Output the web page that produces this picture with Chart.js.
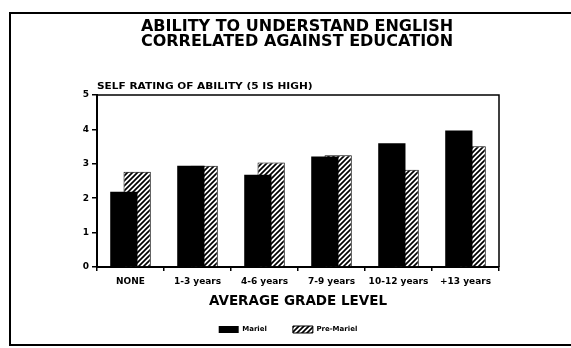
<!DOCTYPE html>
<html>
<head>
<meta charset="utf-8">
<script src="https://cdn.jsdelivr.net/npm/chart.js@4/dist/chart.umd.min.js"></script>
<style>
  html, body { margin: 0; padding: 0; background: #fff; }
  #wrap { width: 571px; height: 348px; position: relative; }
</style>
</head>
<body>
<div id="wrap"><canvas id="chart" width="571" height="348"></canvas></div>
<script>
const categories = ['NONE', '1-3 years', '4-6 years', '7-9 years', '10-12 years', '+13 years'];
const seriesNames = ['Mariel', 'Pre-Mariel'];
const mariel = [2.19, 2.94, 2.68, 3.21, 3.60, 3.97];
const preMariel = [2.77, 2.94, 3.04, 3.25, 2.83, 3.51];
const yTicks = [0, 1, 2, 3, 4, 5];

const titleLines = ['ABILITY TO UNDERSTAND ENGLISH', 'CORRELATED AGAINST EDUCATION'];
const yCaption = 'SELF RATING OF ABILITY (5 IS HIGH)';
const xCaption = 'AVERAGE GRADE LEVEL';

const FONT = "'DejaVu Sans', sans-serif";

// diagonal hatch for the second series
function hatch() {
  const c = document.createElement('canvas');
  c.width = 5; c.height = 5;
  const g = c.getContext('2d');
  g.fillStyle = '#fff';
  g.fillRect(0, 0, 5, 5);
  g.strokeStyle = '#000';
  g.lineWidth = 1.7;
  g.beginPath();
  g.moveTo(-1, 6); g.lineTo(6, -1);
  g.moveTo(-1, 1); g.lineTo(1, -1);
  g.moveTo(4, 6); g.lineTo(6, 4);
  g.stroke();
  return g.createPattern(c, 'repeat');
}

// outer frame, title, plot box top/right edges and the small y caption
const frame = {
  id: 'frame',
  afterDraw(chart) {
    const { ctx, chartArea: a } = chart;
    ctx.save();
    ctx.strokeStyle = '#000';
    ctx.lineWidth = 2;
    ctx.beginPath();
    ctx.moveTo(571, 13); ctx.lineTo(10, 13); ctx.lineTo(10, 345); ctx.lineTo(571, 345);
    ctx.stroke();
    ctx.lineWidth = 1.5;
    ctx.beginPath();
    ctx.moveTo(a.left, a.top); ctx.lineTo(a.right, a.top); ctx.lineTo(a.right, a.bottom);
    ctx.stroke();

    ctx.fillStyle = '#000';
    ctx.textAlign = 'center';
    ctx.textBaseline = 'alphabetic';
    ctx.font = 'bold 16px ' + FONT;
    titleLines.forEach((t, i) => ctx.fillText(t, 297, 31 + i * 15));

    ctx.textAlign = 'left';
    ctx.font = 'bold 8px ' + FONT;
    ctx.translate(a.left, a.top - 6);
    ctx.scale(1.32, 1);
    ctx.fillText(yCaption, 0, 0);
    ctx.restore();
  }
};

Chart.defaults.font.family = FONT;
Chart.defaults.color = '#000';

new Chart(document.getElementById('chart'), {
  type: 'bar',
  data: {
    labels: categories,
    datasets: [
      {
        label: seriesNames[0],
        data: mariel,
        backgroundColor: '#000',
        borderColor: '#000',
        borderWidth: 0,
        order: 0
      },
      {
        label: seriesNames[1],
        data: preMariel,
        backgroundColor: hatch(),
        borderColor: '#000',
        borderWidth: 1,
        order: 1
      }
    ]
  },
  options: {
    responsive: false,
    animation: false,
    devicePixelRatio: 1,
    categoryPercentage: 0.397,
    barPercentage: 2.05,
    layout: { padding: { left: 77, right: 72, top: 95, bottom: 5 } },
    plugins: {
      title: { display: false },
      legend: {
        position: 'bottom',
        maxHeight: 54,
        labels: {
          boxWidth: 20,
          boxHeight: 7,
          padding: 26,
          color: '#000',
          font: { size: 7, weight: 'bold' }
        }
      },
      tooltip: { enabled: false }
    },
    scales: {
      x: {
        grid: { display: true, drawOnChartArea: false, drawTicks: true, tickLength: 4, color: '#000', lineWidth: 1.5 },
        border: { display: true, color: '#000', width: 2 },
        ticks: { padding: 5, font: { size: 9, weight: 'bold' }, maxRotation: 0, autoSkip: false },
        title: {
          display: true,
          text: xCaption,
          font: { size: 13.5, weight: 'bold' },
          padding: { top: 1.5, bottom: -9.5 }
        }
      },
      y: {
        min: yTicks[0],
        max: yTicks[yTicks.length - 1],
        afterFit(scale) { scale.width = 20; },
        afterBuildTicks(scale) { scale.ticks = yTicks.map(v => ({ value: v })); },
        grid: { display: true, drawOnChartArea: false, drawTicks: true, tickLength: 5, color: '#000', lineWidth: 1.5 },
        border: { display: true, color: '#000', width: 2 },
        ticks: { padding: 3, font: { size: 9, weight: 'bold' } }
      }
    }
  },
  plugins: [frame]
});
</script>
</body>
</html>
